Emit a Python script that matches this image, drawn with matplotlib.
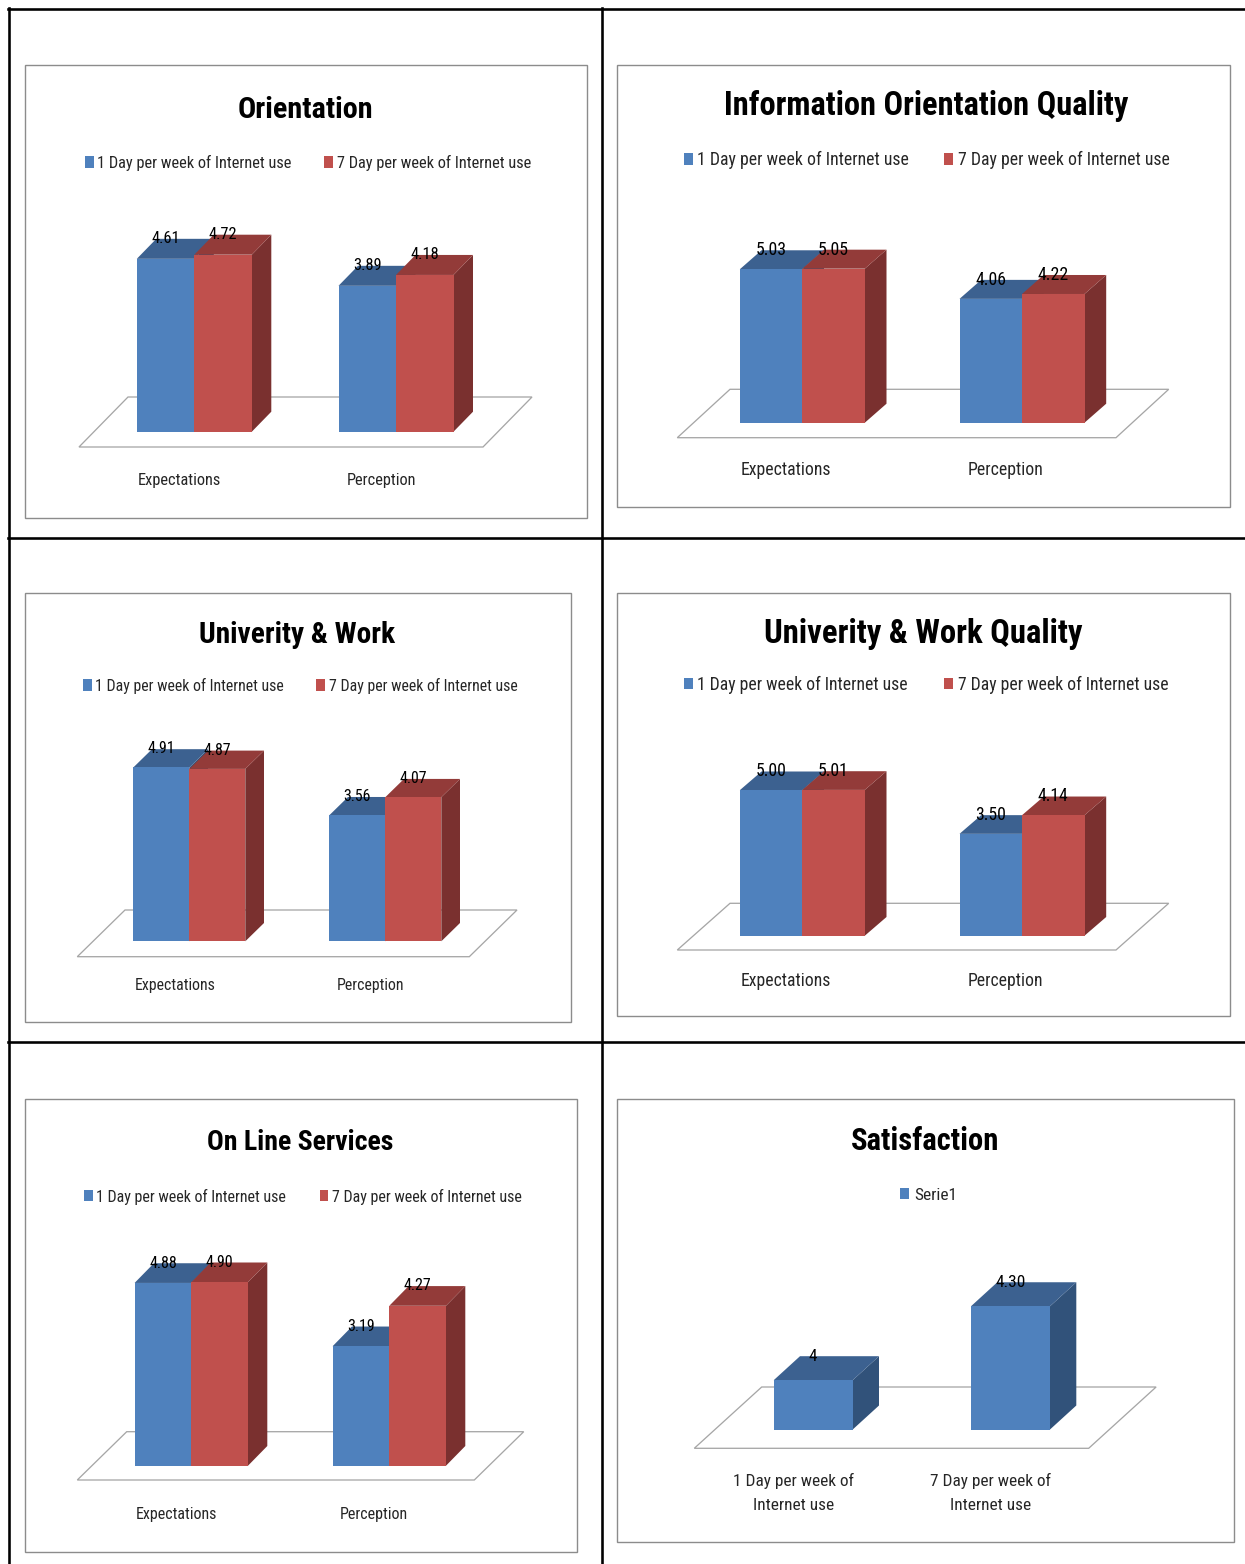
import numpy as np
import matplotlib
matplotlib.use("Agg")
import matplotlib.pyplot as plt
from matplotlib import font_manager
from matplotlib.patches import Polygon, Rectangle
from matplotlib.lines import Line2D

# ---------------- data ----------------
series_names = ["1 Day per week of Internet use", "7 Day per week of Internet use"]
categories = ["Expectations", "Perception"]

orientation_1day = [4.61, 3.89]
orientation_7day = [4.72, 4.18]
info_quality_1day = [5.03, 4.06]
info_quality_7day = [5.05, 4.22]
univ_work_1day = [4.91, 3.56]
univ_work_7day = [4.87, 4.07]
univ_work_quality_1day = [5.00, 3.50]
univ_work_quality_7day = [5.01, 4.14]
online_1day = [4.88, 3.19]
online_7day = [4.90, 4.27]

satisfaction_series = ["Serie1"]
satisfaction_categories = ["1 Day per week of\nInternet use", "7 Day per week of\nInternet use"]
satisfaction_values = [4.00, 4.30]
satisfaction_labels = ["4", "4.30"]

titles = ["Orientation", "Information Orientation Quality", "Univerity & Work",
          "Univerity & Work Quality", "On Line Services", "Satisfaction"]

# ---------------- style ----------------
W, H, DPI = 1245, 1564, 100
names = {f.name for f in font_manager.fontManager.ttflist}
FONT = next((n for n in ["Roboto Condensed", "PT Sans Narrow", "Liberation Sans Narrow",
                         "Liberation Sans"] if n in names), "DejaVu Sans")
plt.rcParams["font.family"] = [FONT, "DejaVu Sans"]

BLUE = dict(front="#4F81BD", top="#3C6190", side="#31527A")
RED = dict(front="#C0504D", top="#933B39", side="#7A302F")
TXT = "#262626"


def pt(px):
    return px * 72.0 / DPI


def F(x, y):
    return x / W, 1 - y / H


fig = plt.figure(figsize=(W / DPI, H / DPI), dpi=DPI)
fig.patch.set_facecolor("white")
renderer = fig.canvas.get_renderer()


def fit_width(t, target_px):
    """Scale the font size of a text so that it spans the given width."""
    for _ in range(2):
        wpx = t.get_window_extent(renderer).width
        if wpx > 0:
            t.set_fontsize(t.get_fontsize() * target_px / wpx)
    return t.get_fontsize()


# table grid
for (x0, y0, x1, y1) in [(8, 9, 1245, 9), (9, 8, 9, 1564), (602, 8, 602, 1564),
                         (8, 538, 1245, 538), (8, 1042, 1245, 1042)]:
    a, b = F(x0, y0)
    c, d = F(x1, y1)
    fig.add_artist(Line2D([a, c], [b, d], color="black", lw=pt(2.6), transform=fig.transFigure))

layouts = [
    dict(box=(24.5, 64.7, 587.2, 517.6), title=(305, 117.8), tw=135.5,
         c0=194.3, S=201.7, bw=57.5, base=431.7, scale=37.5, ymin=0.0, depth=(19.5, 20),
         floor=(79, 483, 447, 397, 49), leg_y=162, leg=[(85, 97), (324, 337)], lw=194,
         cat_y=480, shift=-15),
    dict(box=(617.3, 64.7, 1230.2, 507.2), title=(926, 115.4), tw=405,
         c0=802.3, S=219.7, bw=62.5, base=422.7, scale=30.5, ymin=0.0, depth=(21.7, 19),
         floor=(677.3, 1116, 437.7, 389.3, 52.7), leg_y=159, leg=[(684, 697), (944.5, 958)], lw=211.5,
         cat_y=470, shift=-16.5),
    dict(box=(24.5, 593.3, 571.4, 1021.9), title=(297.5, 642.8), tw=196,
         c0=189.3, S=196, bw=56, base=941.3, scale=35.4, ymin=0.0, depth=(18.7, 18.3),
         floor=(77.3, 469.3, 956.7, 910, 47.7), leg_y=685, leg=[(83.4, 95.3), (316.3, 329)], lw=188.6,
         cat_y=986, shift=-14.5),
    dict(box=(617.3, 593.3, 1230.2, 1016), title=(923.3, 642.7), tw=319,
         c0=802.3, S=219.7, bw=62.5, base=935.7, scale=29.1, ymin=0.0, depth=(21.7, 18.7),
         floor=(677.3, 1116, 950, 903.3, 52.7), leg_y=684, leg=[(684, 697.3), (944.5, 958.3)], lw=211,
         cat_y=981, shift=-16.5),
    dict(box=(24.5, 1099.2, 577.3, 1552), title=(300.5, 1150.3), tw=186,
         c0=191.3, S=198, bw=56.7, base=1465.7, scale=37.45, ymin=0.0, depth=(19.3, 19.7),
         floor=(77.3, 474.3, 1480, 1431.7, 49.4), leg_y=1195.7, leg=[(83.8, 96), (319.5, 332)], lw=190.7,
         cat_y=1514.6, shift=-15),
    dict(box=(617.3, 1099.2, 1234.3, 1542), title=(925, 1150.3), tw=148,
         c0=813.2, S=197.3, bw=79, base=1429.5, scale=246.5, ymin=3.8, depth=(26.3, 24),
         floor=(694.3, 1088.7, 1448.3, 1387, 67.4), leg_y=1193.7, leg=[(900.3, 914.3)], lw=42.7,
         cat_y=1493, shift=-20),
]

panels = [
    dict(series=[orientation_1day, orientation_7day], names=series_names, cats=categories, labels=None),
    dict(series=[info_quality_1day, info_quality_7day], names=series_names, cats=categories, labels=None),
    dict(series=[univ_work_1day, univ_work_7day], names=series_names, cats=categories, labels=None),
    dict(series=[univ_work_quality_1day, univ_work_quality_7day], names=series_names, cats=categories, labels=None),
    dict(series=[online_1day, online_7day], names=series_names, cats=categories, labels=None),
    dict(series=[satisfaction_values], names=satisfaction_series, cats=satisfaction_categories,
         labels=[satisfaction_labels]),
]

for i, (L, Pn) in enumerate(zip(layouts, panels)):
    bx0, by0, bx1, by1 = L["box"]
    # chart area border
    fig.add_artist(Rectangle(F(bx0, by1), (bx1 - bx0) / W, (by1 - by0) / H, fill=False,
                             edgecolor="#8C8C8C", lw=pt(1.4), transform=fig.transFigure))
    # title
    tx, ty = F(*L["title"])
    t = fig.text(tx, ty, titles[i], ha="center", va="baseline", fontsize=pt(30),
                 fontweight="bold", color="black")
    fit_width(t, L["tw"])

    # legend
    scols = [BLUE, RED]
    fs = None
    for k, (sqx, txx) in enumerate(L["leg"]):
        fig.add_artist(Rectangle(F(sqx, L["leg_y"] + 5.5), 8.7 / W, 11 / H,
                                 facecolor=scols[k]["front"], edgecolor="none",
                                 transform=fig.transFigure))
        lx, ly = F(txx, L["leg_y"] + 6.0)
        lt = fig.text(lx, ly, Pn["names"][k], ha="left", va="baseline", fontsize=pt(17), color=TXT)
        if k == 0:
            fs = fit_width(lt, L["lw"])
        else:
            lt.set_fontsize(fs)
    fs_px = fs * DPI / 72.0

    # axes mapped so that data units match the picture's scale
    S, sc, ymin, base = L["S"], L["scale"], L["ymin"], L["base"]
    ax = fig.add_axes([bx0 / W, 1 - base / H, (bx1 - bx0) / W, (base - by0) / H])
    ax.set_xlim((bx0 - L["c0"]) / S, (bx1 - L["c0"]) / S)
    ax.set_ylim(ymin, ymin + (base - by0) / sc)
    ax.set_axis_off()

    def ydat(p):
        return ymin + (base - p) / sc

    def xdat(p):
        return (p - L["c0"]) / S

    # floor
    fl, fr, fy, byk, sh = L["floor"]
    ax.add_patch(Polygon([(xdat(fl), ydat(fy)), (xdat(fr), ydat(fy)),
                          (xdat(fr + sh), ydat(byk)), (xdat(fl + sh), ydat(byk))],
                         closed=True, facecolor="white", edgecolor="#A6A6A6",
                         lw=pt(1.3), zorder=1, clip_on=False))

    ddx, ddy = L["depth"][0] / S, L["depth"][1] / sc
    w = L["bw"] / S
    n = len(Pn["series"])
    x = np.arange(len(Pn["cats"]))
    for k, vals in enumerate(Pn["series"]):
        vals = np.asarray(vals, dtype=float)
        col = scols[k]
        off = (k - (n - 1) / 2.0) * w
        bars = ax.bar(x + off, vals - ymin, bottom=ymin, width=w, color=col["front"],
                      edgecolor="none", zorder=3 + 2 * k)
        for b, v in zip(bars, vals):
            b.set_clip_on(False)
            x0 = b.get_x()
            x1 = x0 + b.get_width()
            ax.add_patch(Polygon([(x1, ymin), (x1, v), (x1 + ddx, v + ddy), (x1 + ddx, ymin + ddy)],
                                 closed=True, facecolor=col["side"], edgecolor="none",
                                 zorder=2 + 2 * k, clip_on=False))
            ax.add_patch(Polygon([(x0, v), (x1, v), (x1 + ddx, v + ddy), (x0 + ddx, v + ddy)],
                                 closed=True, facecolor=col["top"], edgecolor="none",
                                 zorder=2 + 2 * k, clip_on=False))
        labs = Pn["labels"][k] if Pn["labels"] else [f"{v:.2f}" for v in vals]
        for xc, v, lab in zip(x + off, vals, labs):
            ax.text(xc, v + (L["depth"][1] + 1.5 - 0.36 * fs_px) / sc, lab, ha="center",
                    va="baseline", fontsize=fs, color="black", zorder=20, clip_on=False)

    # category labels
    for xc, cat in zip(x, Pn["cats"]):
        ax.text(xc + L["shift"] / S, ydat(L["cat_y"]), cat, ha="center", va="center",
                fontsize=fs, color=TXT, linespacing=1.7, clip_on=False)

fig.savefig("out.png", dpi=DPI, facecolor="white")
